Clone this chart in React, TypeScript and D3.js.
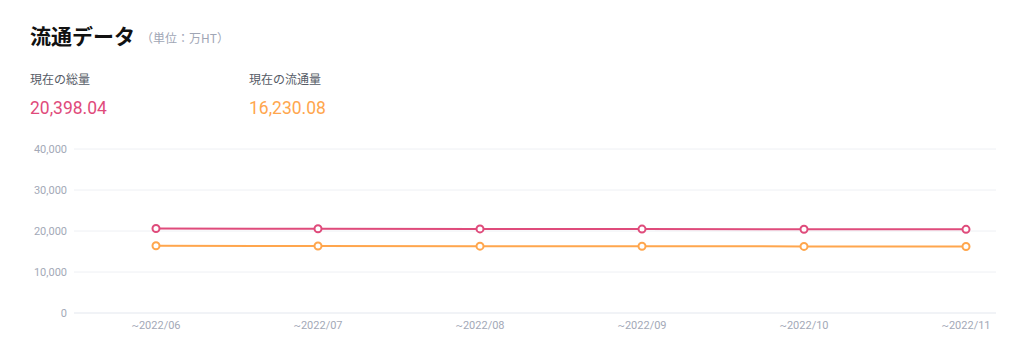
import React from "react";
import * as d3 from "d3";

const months = ["2022/06", "2022/07", "2022/08", "2022/09", "2022/10", "2022/11"];
const totalSupply = [20600, 20560, 20510, 20470, 20430, 20398.04];
const circulating = [16390, 16350, 16310, 16280, 16250, 16230.08];
const yTicks = [0, 10000, 20000, 30000, 40000];

const RED = "#df4b7b";
const ORANGE = "#ffa64d";
const FONT = "'Noto Sans CJK JP', 'Noto Sans', Roboto, sans-serif";

export default function App() {
  const width = 1024;
  const height = 348;
  const gridLeft = 74;
  const gridRight = 996;
  const y = d3.scaleLinear().domain([0, 40000]).range([313, 149]);
  const x = d3.scalePoint<string>().domain(months).range([156, 966]);
  const fmt = d3.format(",");
  const fmt2 = d3.format(",.2f");

  const line = d3
    .line<number>()
    .x((_, i) => x(months[i])!)
    .y((d) => y(d));

  const series = [
    { values: totalSupply, color: RED },
    { values: circulating, color: ORANGE },
  ];

  return (
    <svg
      width={width}
      height={height}
      style={{ position: "absolute", left: 0, top: 0, fontFamily: FONT }}
    >
      <text x={30} y={44} fontSize={21} fontWeight={700} fill="#111">
        流通データ
      </text>
      <text x={141} y={43} fontSize={12} fill="#a0a6b5">
        （単位：万HT）
      </text>

      <text x={30} y={84} fontSize={12} fill="#555b66">
        現在の総量
      </text>
      <text x={30} y={114} fontSize={17.5} fill={RED} fontFamily="Roboto, sans-serif">
        {fmt2(totalSupply[totalSupply.length - 1])}
      </text>
      <text x={249} y={84} fontSize={12} fill="#555b66">
        現在の流通量
      </text>
      <text x={249} y={114} fontSize={17.5} fill={ORANGE} fontFamily="Roboto, sans-serif">
        {fmt2(circulating[circulating.length - 1])}
      </text>

      {yTicks.map((t) => (
        <g key={t}>
          <line
            x1={gridLeft}
            x2={gridRight}
            y1={y(t)}
            y2={y(t)}
            stroke={t === 0 ? "#e3e7ee" : "#eef0f4"}
            strokeWidth={1}
          />
          <text
            x={67}
            y={y(t)}
            dy="0.35em"
            textAnchor="end"
            fontSize={11}
            fill="#a3a9b7"
            fontFamily="Roboto, sans-serif"
          >
            {fmt(t)}
          </text>
        </g>
      ))}

      {months.map((m) => (
        <text
          key={m}
          x={x(m)!}
          y={329}
          textAnchor="middle"
          fontSize={11}
          fill="#a3a9b7"
          fontFamily="Roboto, sans-serif"
        >
          {"~" + m}
        </text>
      ))}

      {series.map((s, si) => (
        <g key={si}>
          <path d={line(s.values)!} fill="none" stroke={s.color} strokeWidth={2} />
          {s.values.map((v, i) => (
            <circle
              key={i}
              cx={x(months[i])!}
              cy={y(v)}
              r={3.5}
              fill="#fff"
              stroke={s.color}
              strokeWidth={2}
            />
          ))}
        </g>
      ))}
    </svg>
  );
}
